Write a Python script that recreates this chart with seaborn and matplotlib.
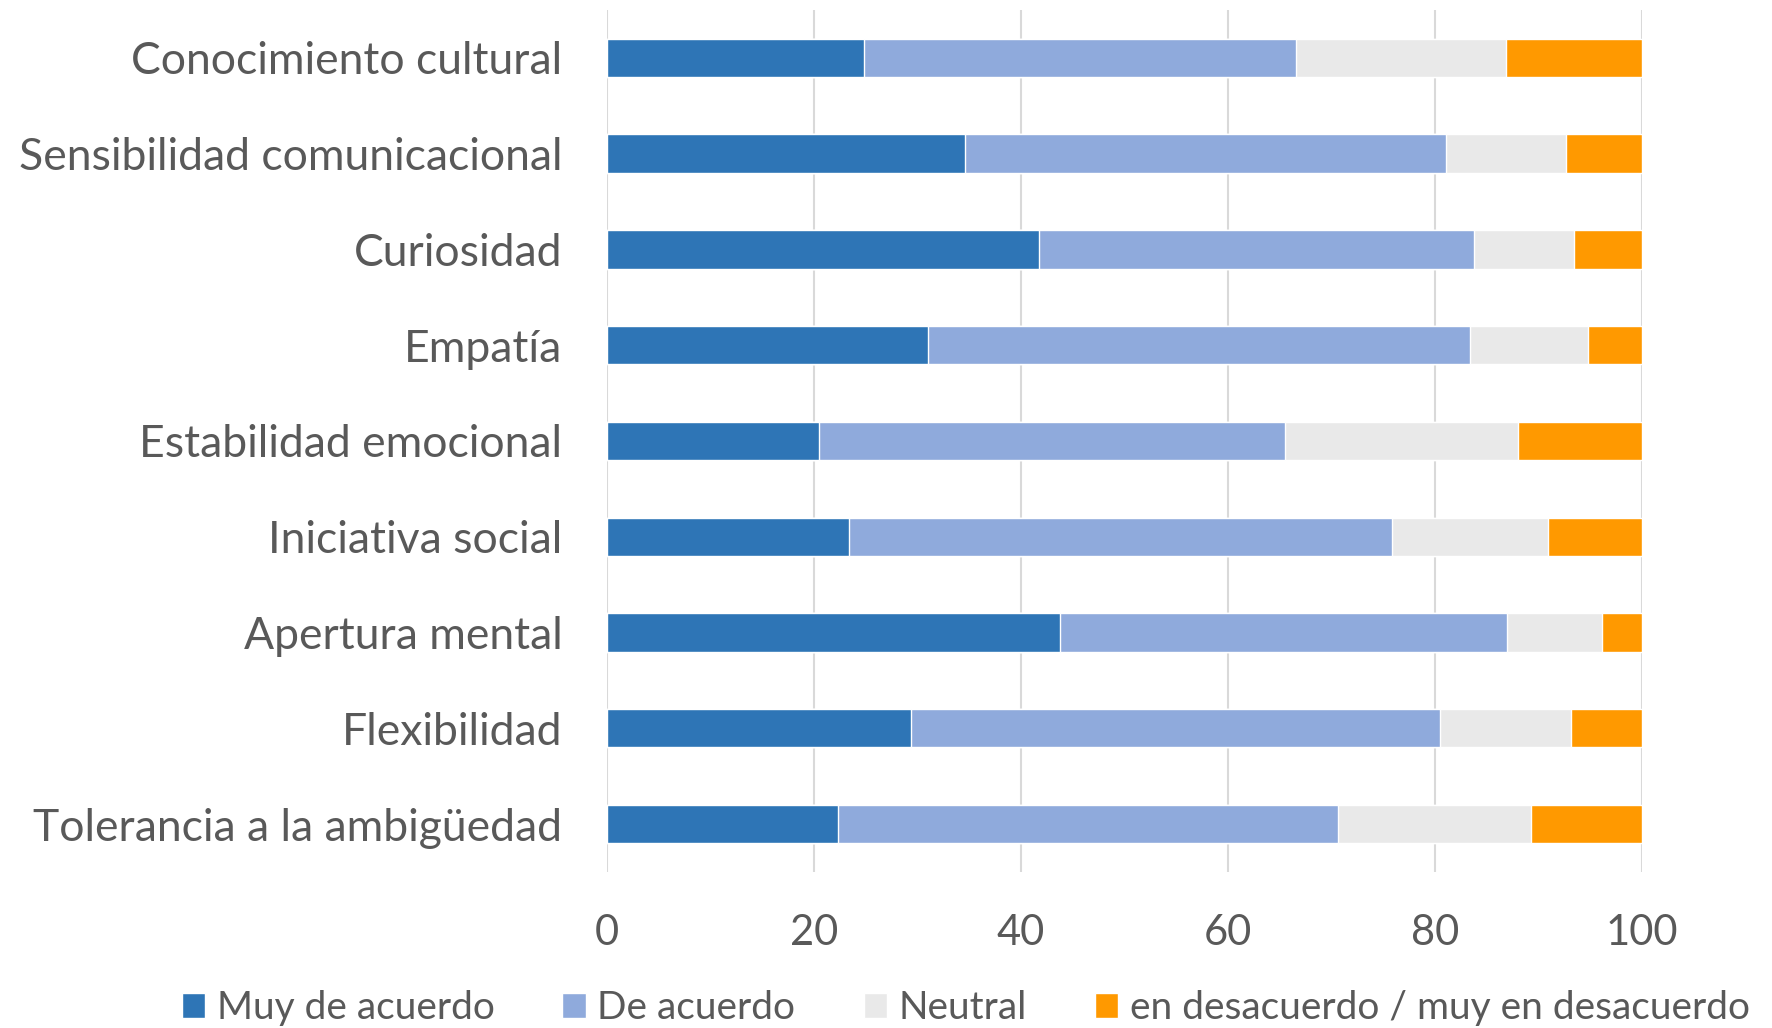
import numpy as np
import pandas as pd
import matplotlib
matplotlib.use("Agg")
import matplotlib.pyplot as plt
import seaborn as sns

# --- Data (percent of respondents) ---
categories = [
    "Conocimiento cultural",
    "Sensibilidad comunicacional",
    "Curiosidad",
    "Empatía",
    "Estabilidad emocional",
    "Iniciativa social",
    "Apertura mental",
    "Flexibilidad",
    "Tolerancia a la ambigüedad",
]
muy_de_acuerdo = [24.8, 34.6, 41.7, 31.0, 20.5, 23.4, 43.8, 29.4, 22.3]
de_acuerdo = [41.8, 46.5, 42.1, 52.4, 45.0, 52.5, 43.2, 51.1, 48.3]
neutral = [20.3, 11.6, 9.6, 11.4, 22.5, 15.0, 9.1, 12.6, 18.7]
desacuerdo = [13.1, 7.3, 6.6, 5.2, 12.0, 9.1, 3.9, 6.9, 10.7]

series_names = ["Muy de acuerdo", "De acuerdo", "Neutral",
                "en desacuerdo / muy en desacuerdo"]
colors = ["#2E75B6", "#8FAADC", "#E9E9E9", "#FF9900"]
xticks = [0, 20, 40, 60, 80, 100]

# --- Style ---
sns.set_style("white")
plt.rcParams["font.family"] = ["Lato", "DejaVu Sans"]
TEXT = "#595959"

df = pd.DataFrame({
    "cat": categories,
    "s1": muy_de_acuerdo,
    "s2": de_acuerdo,
    "s3": neutral,
    "s4": desacuerdo,
})
# cumulative ends for stacking
cum = np.cumsum(df[["s1", "s2", "s3", "s4"]].to_numpy(), axis=1)

fig = plt.figure(figsize=(17.72, 10.28), dpi=100)
ax = fig.add_axes([0.3425, 0.1518, 0.5841, 0.8385])

# draw longest first so shorter segments sit on top
for k in range(3, -1, -1):
    sns.barplot(x=cum[:, k], y=df["cat"], orient="h", color=colors[k],
                width=0.4, saturation=1, label=series_names[k], ax=ax,
                zorder=2)
if ax.get_legend() is not None:
    ax.get_legend().remove()

ax.set_xlim(0, 100)
ax.set_ylim(8.5, -0.5)
ax.set_xticks(xticks)
ax.set_xticklabels([str(t) for t in xticks])
ax.set_xlabel("")
ax.set_ylabel("")
ax.xaxis.grid(True, color="#D9D9D9", linewidth=1.5, zorder=0)
ax.set_axisbelow(True)
for s in ax.spines.values():
    s.set_visible(False)
ax.tick_params(axis="x", length=0, pad=30, labelsize=30, labelcolor=TEXT)
ax.tick_params(axis="y", length=0, pad=32, labelsize=32, labelcolor=TEXT)

handles, labels = ax.get_legend_handles_labels()
leg = fig.legend(handles[::-1], labels[::-1], loc="lower center",
                 bbox_to_anchor=(0.545, -0.032), ncol=4, frameon=False,
                 fontsize=28, handlelength=0.6, handleheight=0.6,
                 handletextpad=0.3, columnspacing=1.75, labelcolor=TEXT)

fig.savefig("out.png", dpi=100)
